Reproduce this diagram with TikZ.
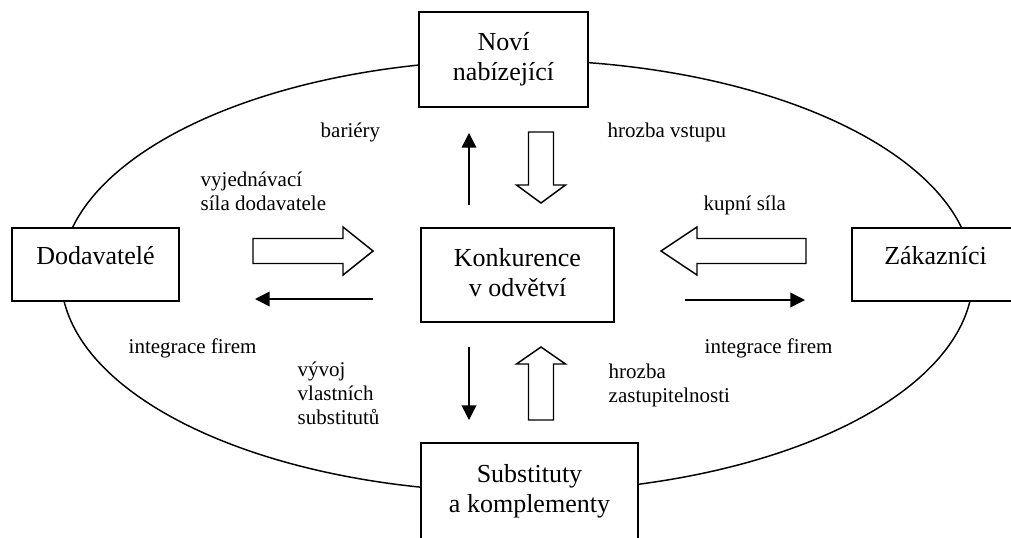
\documentclass[tikz,border=0pt]{standalone}
\usepackage{fontspec}
\setmainfont{Liberation Serif}
\usetikzlibrary{arrows.meta,calc,positioning}
\tikzset{
	forces/.style={
		x=0.75pt, y=-0.75pt,
		line width=1.1pt,
		box/.style={draw, line width=1.5pt, fill=white, align=center, inner sep=0pt,
			font=\fontsize{19.5}{22.5}\selectfont},
		one line/.style={text height=12pt, text depth=12pt},
		lbl/.style={anchor=west, align=left, inner sep=0pt,
			font=\fontsize{15.75}{18}\selectfont},
		ar/.style={-{Triangle[length=11pt,width=11pt]}},
		hollow/.style={draw, line width=1.1pt, fill=white, line join=miter}
	},
	pics/fat/.style n args={3}{code={
		\draw[hollow] (0,-12.5) -- ({#1-#2},-12.5) -- ({#1-#2},-#3) -- (#1,0)
			-- ({#1-#2},#3) -- ({#1-#2},12.5) -- (0,12.5) -- cycle;
	}}
}

\begin{document}
\begin{tikzpicture}[forces]
	\useasboundingbox (0,0) rectangle (1011,537);
	\draw (517,276) ellipse [x radius=456, y radius=216];
	\node[box, minimum width=126.75pt, minimum height=71.25pt] (nov) at (503.5,59.5) {Noví\\nabízející};
	\node[box, one line, minimum width=125.25pt, minimum height=54.75pt] (dod) at (95.5,264.5) {Dodavatelé};
	\node[box, text depth=4.5pt, minimum width=144.75pt, minimum height=70.5pt] (konk) at (517.5,275) {Konkurence\\v odvětví};
	\node[box, one line, minimum width=125.25pt, minimum height=54.75pt] (zak) at (935.5,264.5) {Zákazníci};
	\node[box, minimum width=162.75pt, minimum height=72.75pt] (sub) at (529.5,491.5) {Substituty\\a komplementy};

	\node[lbl] (bar) at (320,132) {bariéry};
	\node[lbl] (vst) at (607,132) {hrozba vstupu};
	\node[lbl] (vyj) at (200,191) {vyjednávací\\síla dodavatele};
	\node[lbl] (kup) at (703,205) {kupní síla};
	\node[lbl] (intL) at (128,348) {integrace firem};
	\node[lbl] (intR) at (704,348) {integrace firem};
	\node[lbl] (vyv) at (297,393) {vývoj\\vlastních\\substitutů};
	\node[lbl] (zas) at (608,385) {hrozba\\zastupitelnosti};

	\coordinate (barS) at (469,205);
	\coordinate (barE) at (469,133);
	\coordinate (intLS) at (373,299);
	\coordinate (intLE) at (255,299);
	\coordinate (intRS) at (685,300);
	\coordinate (intRE) at (805,300);
	\coordinate (vyvS) at (469,347);
	\coordinate (vyvE) at (469,420);
	\draw[ar] (barS) -- (barE);
	\draw[ar] (intLS) -- (intLE);
	\draw[ar] (intRS) -- (intRE);
	\draw[ar] (vyvS) -- (vyvE);

	\pic at (253,251) {fat={120}{30}{24}};
	\pic[rotate=180] at (806,251) {fat={145}{36}{24}};
	\pic[rotate=-90] at (541,132) {fat={71}{18}{24.5}};
	\pic[rotate=90] at (541,420) {fat={73}{17}{24.5}};
\end{tikzpicture}
\end{document}
